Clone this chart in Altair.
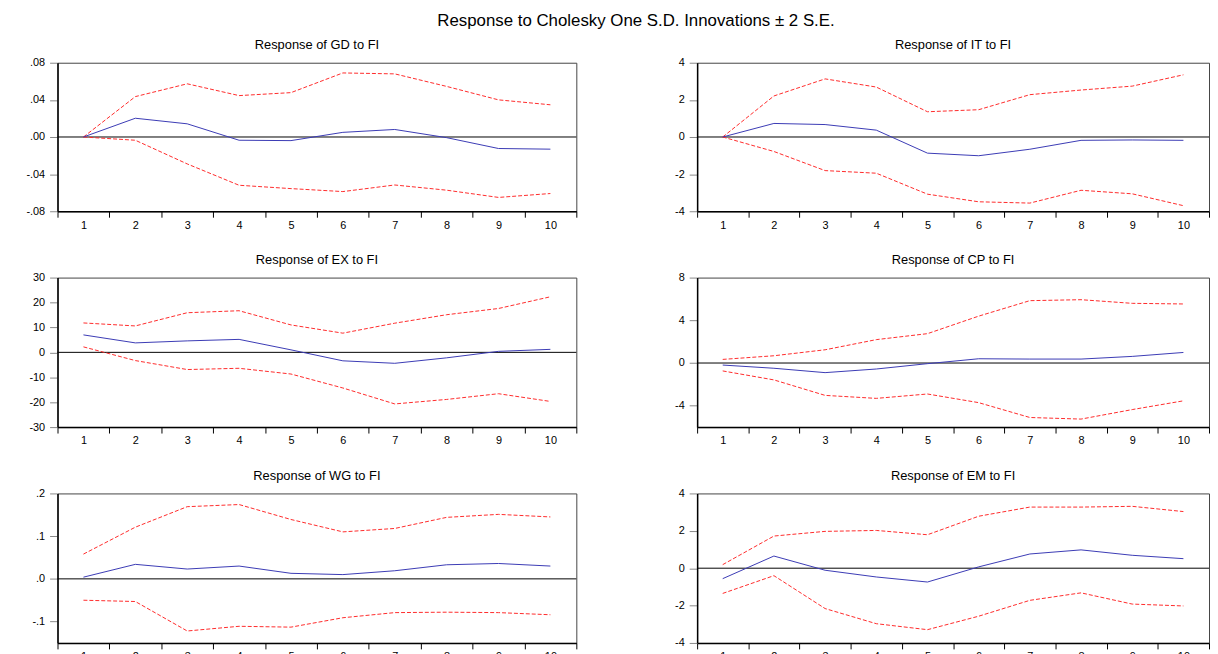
import altair as alt
import pandas as pd

horizons = list(range(1, 11))

gd_resp = [0.0, 0.0202, 0.0142, -0.0035, -0.0039, 0.0050, 0.0081, -0.0007, -0.0124, -0.0131]
gd_up = [0.0, 0.0435, 0.0573, 0.0446, 0.0478, 0.0690, 0.0680, 0.0545, 0.0400, 0.0347]
gd_lo = [0.0, -0.0035, -0.0290, -0.0520, -0.0556, -0.0588, -0.0517, -0.0573, -0.0651, -0.0609]

it_resp = [0.0, 0.73, 0.67, 0.37, -0.87, -1.01, -0.66, -0.18, -0.16, -0.18]
it_up = [0.0, 2.21, 3.13, 2.69, 1.36, 1.47, 2.28, 2.53, 2.74, 3.35]
it_lo = [0.0, -0.78, -1.81, -1.95, -3.08, -3.49, -3.56, -2.87, -3.06, -3.70]

ex_resp = [7.0, 3.8, 4.6, 5.2, 1.0, -3.4, -4.4, -2.2, 0.4, 1.2]
ex_up = [11.8, 10.6, 15.9, 16.7, 11.0, 7.7, 11.7, 15.1, 17.6, 22.3]
ex_lo = [2.2, -3.3, -6.9, -6.4, -8.7, -14.3, -20.7, -18.9, -16.6, -19.7]

cp_resp = [-0.19, -0.49, -0.90, -0.56, -0.06, 0.40, 0.37, 0.37, 0.62, 0.99]
cp_up = [0.34, 0.68, 1.24, 2.19, 2.75, 4.39, 5.84, 5.93, 5.59, 5.53]
cp_lo = [-0.74, -1.58, -3.03, -3.31, -2.90, -3.71, -5.10, -5.25, -4.36, -3.54]

wg_resp = [0.004, 0.034, 0.023, 0.030, 0.013, 0.010, 0.019, 0.033, 0.036, 0.030]
wg_up = [0.058, 0.121, 0.169, 0.174, 0.139, 0.110, 0.118, 0.144, 0.151, 0.145]
wg_lo = [-0.050, -0.053, -0.122, -0.111, -0.113, -0.091, -0.079, -0.078, -0.079, -0.084]

em_resp = [-0.56, 0.65, -0.11, -0.47, -0.74, 0.07, 0.76, 0.98, 0.69, 0.51]
em_up = [0.19, 1.72, 1.97, 2.02, 1.79, 2.78, 3.27, 3.27, 3.31, 3.03]
em_lo = [-1.35, -0.40, -2.16, -2.97, -3.29, -2.57, -1.72, -1.32, -1.92, -2.02]

FONT = "Liberation Sans"
MAIN_TITLE = "Response to Cholesky One S.D. Innovations \u00b1 2 S.E."


def label_expr(fmt):
    return ("replace(replace(format(datum.value, '%s'), '\u2212', '-'), '0.', '.')" % fmt
            if fmt != "d" else
            "replace(format(datum.value, 'd'), '\u2212', '-')")


def panel(title, resp, up, lo, domain, values, fmt, width, height):
    n = len(horizons)
    df = pd.DataFrame({
        "h": horizons * 3,
        "v": resp + up + lo,
        "s": ["resp"] * n + ["up"] * n + ["lo"] * n,
    })
    xenc = alt.X(
        "h:O",
        bandPosition=0.5,
        scale=alt.Scale(type="band", paddingInner=0, paddingOuter=0),
        axis=alt.Axis(title=None, labelAngle=0, tickBand="extent", tickSize=6,
                      tickColor="black", labelPadding=2, labelFontSize=11,
                      domainColor="black", domainWidth=1.5),
    )
    yscale = alt.Scale(domain=domain, nice=False, zero=False)
    yaxis = alt.Axis(title=None, values=values, labelExpr=label_expr(fmt), grid=False,
                     tickSize=8, tickColor="#888888", labelPadding=5, labelFontSize=11,
                     minExtent=49, maxExtent=49, domainColor="black", domainWidth=1.5)
    zero = alt.Chart(pd.DataFrame({"z": [0]})).mark_rule(color="black", strokeWidth=1).encode(
        y=alt.Y("z:Q", scale=yscale, axis=yaxis)
    )
    bands = alt.Chart(df).transform_filter("datum.s != 'resp'").mark_line(
        color="#ff2a2a", strokeDash=[4, 2], strokeWidth=1
    ).encode(x=xenc, y=alt.Y("v:Q", scale=yscale, axis=yaxis), detail="s:N")
    blue = alt.Chart(df).transform_filter("datum.s == 'resp'").mark_line(
        color="#3a3ab4", strokeWidth=1
    ).encode(x=xenc, y=alt.Y("v:Q", scale=yscale, axis=yaxis))
    return alt.layer(zero, bands, blue).properties(
        width=width, height=height,
        title=alt.TitleParams(title, fontSize=13, font=FONT, fontWeight="normal",
                              anchor="middle", offset=5, color="black"),
    )


LW, RW = 524, 517
HSP = 71

row1 = alt.hconcat(
    panel("Response of GD to FI", gd_resp, gd_up, gd_lo, [-0.08, 0.08],
          [-0.08, -0.04, 0.0, 0.04, 0.08], ".2f", LW, 150),
    panel("Response of IT to FI", it_resp, it_up, it_lo, [-4, 4],
          [-4, -2, 0, 2, 4], "d", RW, 150),
    spacing=HSP,
)
row2 = alt.hconcat(
    panel("Response of EX to FI", ex_resp, ex_up, ex_lo, [-30, 30],
          [-30, -20, -10, 0, 10, 20, 30], "d", LW, 151),
    panel("Response of CP to FI", cp_resp, cp_up, cp_lo, [-6, 8],
          [-4, 0, 4, 8], "d", RW, 151),
    spacing=HSP,
)
row3 = alt.hconcat(
    panel("Response of WG to FI", wg_resp, wg_up, wg_lo, [-0.15, 0.2],
          [-0.1, 0.0, 0.1, 0.2], ".1f", LW, 151),
    panel("Response of EM to FI", em_resp, em_up, em_lo, [-4, 4],
          [-4, -2, 0, 2, 4], "d", RW, 151),
    spacing=HSP,
)

top_rows = alt.vconcat(row1, row2, spacing=22)

chart = alt.vconcat(top_rows, row3, spacing=22).properties(
    padding=0,
    title=alt.TitleParams(MAIN_TITLE, fontSize=17, font=FONT, fontWeight="normal",
                          anchor="middle", offset=9, dx=27, color="black"),
).configure_view(stroke="#444444", strokeWidth=1).configure_axis(
    labelFont=FONT, labelColor="black"
).configure_title(font=FONT)

chart.save("out.html", embed_options={"renderer": "svg", "actions": False})
